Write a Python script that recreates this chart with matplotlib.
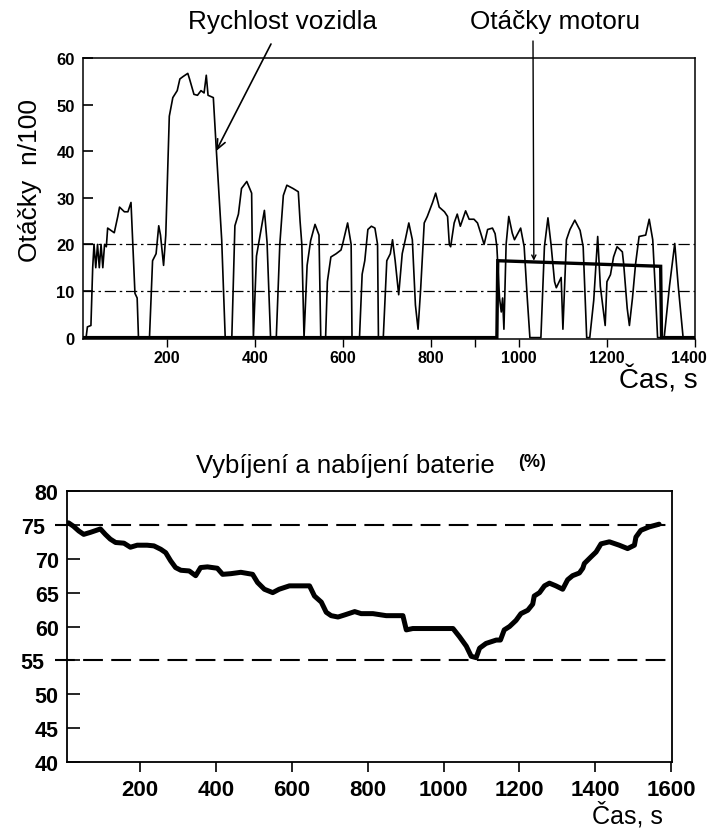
import matplotlib
matplotlib.use('Agg')
import matplotlib.pyplot as plt
import matplotlib.transforms as mtrans

plt.rcParams['font.family'] = ['Liberation Sans', 'DejaVu Sans']

# --- horni graf: rychlost vozidla a otacky motoru -------------------------
speed_t = [11, 17, 20, 28, 32, 35, 39, 43, 47, 51, 55, 59, 63, 66, 81, 89, 93,
           104, 112, 119, 123, 128, 133, 136, 161, 168, 176, 182, 186, 193, 198,
           206, 214, 224, 230, 237, 248, 252, 262, 270, 278, 285, 290, 294, 306,
           313, 325, 333, 348, 355, 363, 370, 382, 393, 397, 404, 410, 422, 428,
           436, 449, 457, 465, 473, 487, 499, 503, 507, 512, 519, 527, 537, 546,
           550, 561, 565, 573, 585, 596, 600, 611, 619, 621, 638, 644, 650, 657,
           665, 673, 679, 681, 692, 700, 708, 713, 719, 727, 735, 742, 750, 758,
           765, 771, 777, 785, 792, 804, 811, 819, 831, 838, 842, 845, 853, 860,
           867, 879, 887, 898, 906, 913, 921, 929, 940, 946, 950, 956, 960, 963,
           966, 971, 977, 985, 990, 1004, 1012, 1019, 1025, 1050, 1058, 1066,
           1073, 1081, 1085, 1096, 1100, 1108, 1116, 1127, 1139, 1146, 1154,
           1161, 1170, 1179, 1185, 1196, 1200, 1208, 1215, 1223, 1235, 1238,
           1246, 1251, 1258, 1265, 1273, 1288, 1296, 1304, 1310, 1315, 1330,
           1342, 1354, 1362, 1373, 1400]
speed_v = [0, 0, 2.3, 2.6, 15, 20, 15, 20, 15, 20, 15, 20, 19.5, 23.5, 22.5, 26,
           28, 27, 27, 29, 20.5, 9.5, 8.5, 0, 0, 16.5, 18, 24, 22, 15.5, 22,
           47.5, 51.5, 53, 55.5, 56, 56.7, 55.5, 52.2, 52, 53, 52.5, 56.3, 52,
           51.5, 40, 21, 0, 0, 24, 26.5, 32, 33.5, 31, 0, 17.5, 20.8, 27.3,
           20.5, 0, 0, 20, 30.5, 32.7, 32, 31.3, 25, 20, 0, 15.5, 20.8, 24.3,
           22, 0, 0, 12, 17.3, 18, 18.8, 20.2, 24.6, 20, 0, 0, 13.6, 16.5, 23.2,
           23.9, 23.5, 20, 0, 0, 16.5, 18, 21, 16.5, 9.2, 18, 21, 24.6, 21, 7,
           1.8, 10.6, 24.6, 26, 29, 31, 28, 27, 26, 20, 19.5, 24.6, 26.5, 23.9,
           27.2, 25.4, 25.4, 24.6, 22.5, 20, 23.2, 23.5, 22.3, 19.5, 8.5, 5.5,
           8.5, 1.8, 20, 26, 22.4, 21, 23.5, 19.5, 8.5, 0, 0, 19.5, 25.7, 20,
           12, 10.7, 12.9, 1.8, 21, 23.2, 25.2, 23, 19.5, 0, 0, 8, 21.7, 11,
           2.6, 12, 13.5, 17.3, 19.5, 18.4, 15.8, 6.3, 2.6, 8.5, 15.8, 21.7, 22,
           25.4, 21, 10, 0, 0, 11, 20.2, 11, 0, 0]

engine_t = [11, 950, 952, 1322, 1324, 1400]
engine_v = [0, 0, 16.5, 15.3, 0, 0]

top_xticks = [200, 400, 600, 800, 1000, 1200, 1400]
top_yticks = [0, 10, 20, 30, 40, 50, 60]
top_hlines = [10, 20]

# --- dolni graf: stav nabiti baterie --------------------------------------
soc_t = [12, 25, 39, 52, 70, 96, 109, 122, 136, 158, 175, 193, 219, 237, 255,
         268, 281, 294, 308, 330, 347, 360, 378, 404, 418, 440, 466, 497, 510,
         528, 550, 567, 594, 647, 660, 678, 691, 704, 722, 739, 766, 783, 814,
         849, 893, 902, 919, 954, 1025, 1042, 1060, 1073, 1086, 1095, 1112,
         1139, 1150, 1160, 1174, 1191, 1204, 1222, 1235, 1239, 1253, 1266,
         1279, 1296, 1314, 1327, 1340, 1358, 1367, 1371, 1389, 1402, 1415,
         1437, 1463, 1485, 1503, 1507, 1520, 1542, 1568]
soc_v = [75.3, 74.8, 74.1, 73.6, 73.9, 74.4, 73.6, 72.9, 72.4, 72.3, 71.7, 72.0,
         72.0, 71.9, 71.4, 70.9, 69.7, 68.7, 68.3, 68.2, 67.5, 68.7, 68.8, 68.6,
         67.7, 67.8, 68.0, 67.7, 66.5, 65.5, 65.0, 65.5, 66.0, 66.0, 64.5, 63.6,
         62.1, 61.6, 61.4, 61.7, 62.2, 61.9, 61.9, 61.6, 61.6, 59.5, 59.7, 59.7,
         59.7, 58.5, 57.1, 55.6, 55.4, 56.8, 57.5, 58.0, 58.0, 59.5, 60.0, 60.9,
         61.9, 62.4, 63.3, 64.5, 65.0, 66.0, 66.4, 66.0, 65.5, 66.9, 67.5, 67.9,
         68.6, 69.3, 70.3, 71.0, 72.2, 72.5, 72.0, 71.5, 72.0, 73.2, 74.2, 74.7,
         75.1]

bot_xticks = [200, 400, 600, 800, 1000, 1200, 1400, 1600]
bot_yticks = [40, 45, 50, 55, 60, 65, 70, 75, 80]
soc_limits = [55, 75]

W, H = 710, 829
fig = plt.figure(figsize=(W / 100, H / 100), dpi=100)


def fx(px):
    return px / W


def fy(py):
    return 1 - py / H


# ---------------------------------------------------------------- top panel
ax1 = fig.add_axes([fx(83), fy(340), fx(695) - fx(83), fy(59) - fy(340)])
for yv in top_hlines:
    ax1.axhline(yv, color='black', lw=0.9, ls=(0, (9, 3, 2, 3)), zorder=1)
ax1.plot(speed_t, speed_v, color='black', lw=1.2, zorder=2)
ax1.plot(engine_t, engine_v, color='black', lw=2.4, solid_joinstyle='miter',
         zorder=3)
ax1.set_xlim(10, 1400)
ax1.set_ylim(-0.3, 60)
ax1.set_xticks(top_xticks)
ax1.set_xticks([900], minor=True)
ax1.set_yticks(top_yticks)
ax1.tick_params(axis='x', which='both', direction='out', length=6, width=1,
                labelsize=11.5, pad=2)
ax1.tick_params(axis='y', direction='in', length=7, width=1.2, labelsize=12,
                pad=6)
for lab in ax1.get_xticklabels() + ax1.get_yticklabels():
    lab.set_fontweight('bold')
# posledni popisek (1400) trochu doleva, aby se vesel
lab_last = ax1.get_xticklabels()[-1]
lab_last.set_transform(lab_last.get_transform() +
                       mtrans.ScaledTranslation(-6 / 100, 0, fig.dpi_scale_trans))
for sp in ax1.spines.values():
    sp.set_linewidth(1.1)

fig.text(fx(30), fy(181), 'Otáčky  n/100', rotation=90, ha='center',
         va='center', fontsize=19)
fig.text(fx(698), fy(381), 'Čas, s', ha='right', va='center', fontsize=20)

# popisky se sipkami
fig.text(fx(283), fy(22), 'Rychlost vozidla', ha='center', va='center',
         fontsize=18.8)
fig.text(fx(555), fy(22), 'Otáčky motoru', ha='center', va='center',
         fontsize=18.8)
ax1.annotate('', xy=(312, 40), xycoords='data',
             xytext=(fx(271), fy(45)), textcoords='figure fraction',
             arrowprops=dict(arrowstyle='->,head_length=0.7,head_width=0.3',
                             color='black', lw=1.2, shrinkA=0, shrinkB=0),
             annotation_clip=False)
ax1.annotate('', xy=(1034, 16.5), xycoords='data',
             xytext=(fx(533), fy(42)), textcoords='figure fraction',
             arrowprops=dict(arrowstyle='->,head_length=0.3,head_width=0.15',
                             color='black', lw=1.0, shrinkA=0, shrinkB=0),
             annotation_clip=False)

# ------------------------------------------------------------- bottom panel
ax2 = fig.add_axes([fx(67), fy(763), fx(672) - fx(67), fy(492) - fy(763)])
for yv in soc_limits:
    ax2.axhline(yv, xmin=-0.02, xmax=1.0, color='black', lw=1.5,
                ls=(0, (9.5, 4)), clip_on=False, zorder=1)
ax2.plot(soc_t, soc_v, color='black', lw=3.6, solid_capstyle='round',
         solid_joinstyle='round', zorder=2)
ax2.set_xlim(8, 1602)
ax2.set_ylim(40, 80)
ax2.set_xticks(bot_xticks)
ax2.set_yticks(bot_yticks)
ax2.tick_params(axis='x', direction='out', length=7, width=1.2, labelsize=16,
                pad=5)
ax2.tick_params(axis='y', direction='in', length=9, width=1.2, labelsize=15.5,
                pad=6)
for lab in ax2.get_xticklabels() + ax2.get_yticklabels():
    lab.set_fontweight('bold')
# popisky 75 a 55 jsou posunute vlevo (pres prerusovanou caru)
shift = mtrans.ScaledTranslation(-14 / 100, 0, fig.dpi_scale_trans)
for lab in ax2.get_yticklabels():
    if lab.get_text() in ('75', '55'):
        lab.set_transform(lab.get_transform() + shift)
for sp in ax2.spines.values():
    sp.set_linewidth(1.3)

fig.text(fx(345), fy(466), 'Vybíjení a nabíjení baterie', ha='center',
         va='center', fontsize=18.5)
fig.text(fx(532), fy(463), '(%)', ha='center', va='center', fontsize=13,
         fontweight='bold')
fig.text(fx(663), fy(815), 'Čas, s', ha='right', va='center', fontsize=18)

fig.savefig('out.png', dpi=100)
